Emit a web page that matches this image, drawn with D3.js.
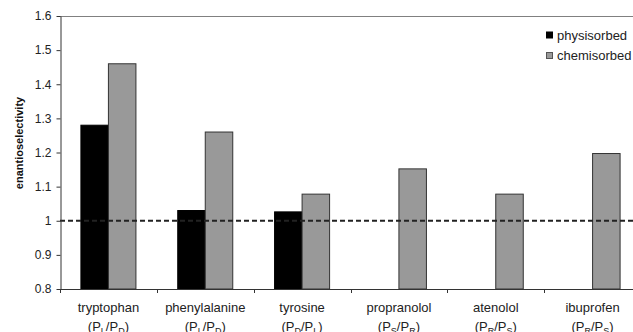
<!DOCTYPE html>
<html>
<head>
<meta charset="utf-8">
<script src="https://cdn.jsdelivr.net/npm/d3@7"></script>
<style>
  html, body { margin: 0; padding: 0; background: #fff; overflow: hidden; }
  svg { display: block; font-family: "Liberation Sans", Arial, sans-serif; }
</style>
</head>
<body>
<svg id="chart"></svg>
<script>
// data
const categories = ['tryptophan', 'phenylalanine', 'tyrosine', 'propranolol', 'atenolol', 'ibuprofen'];
const ratioLabels = [['L', 'D'], ['L', 'D'], ['D', 'L'], ['S', 'R'], ['R', 'S'], ['R', 'S']];
const series = ['physisorbed', 'chemisorbed'];
const physisorbed = [1.28, 1.03, 1.026, null, null, null];
const chemisorbed = [1.46, 1.26, 1.078, 1.152, 1.078, 1.197];
const yTicks = [0.8, 0.9, 1.0, 1.1, 1.2, 1.3, 1.4, 1.5, 1.6];
const yTickLabels = ['0.8', '0.9', '1', '1.1', '1.2', '1.3', '1.4', '1.5', '1.6'];
const colors = { physisorbed: '#000000', chemisorbed: '#999999' };

const [width, height] = [633, 332];
const margin = { top: 16, left: 60, bottom: 289 };
const plotRight = 641; // the plot runs off the right edge of the picture

const svg = d3.select('#chart')
    .attr('width', width)
    .attr('height', height);

const x0 = d3.scaleBand()
    .domain(categories)
    .range([margin.left, plotRight])
    .paddingInner(0)
    .paddingOuter(0);

const x1 = d3.scaleBand()
    .domain(series)
    .range([0, x0.bandwidth()])
    .paddingInner(0)
    .paddingOuter(0.76);

const y = d3.scaleLinear()
    .domain([0.8, 1.6])
    .range([margin.bottom, margin.top]);

const rows = categories.map((c, i) => ({
  category: c,
  values: [
    { key: 'physisorbed', value: physisorbed[i] },
    { key: 'chemisorbed', value: chemisorbed[i] }
  ].filter(d => d.value != null)
}));

// top border line
svg.append('line')
    .attr('x1', margin.left).attr('x2', width)
    .attr('y1', margin.top + 0.5).attr('y2', margin.top + 0.5)
    .attr('stroke', '#808080')
    .attr('stroke-width', 1);

// bars
svg.append('g')
  .selectAll('g')
  .data(rows)
  .join('g')
    .attr('transform', d => `translate(${x0(d.category)},0)`)
  .selectAll('rect')
  .data(d => d.values)
  .join('rect')
    .attr('x', d => x1(d.key))
    .attr('width', x1.bandwidth())
    .attr('y', d => y(d.value))
    .attr('height', d => y(0.8) - y(d.value))
    .attr('fill', d => colors[d.key])
    .attr('stroke', d => d.key === 'chemisorbed' ? '#333' : '#000')
    .attr('stroke-width', 1);

// reference line at 1
svg.append('line')
    .attr('x1', margin.left).attr('x2', width)
    .attr('y1', y(1)).attr('y2', y(1))
    .attr('stroke', '#222')
    .attr('stroke-width', 1.8)
    .attr('stroke-dasharray', '5,3');

// y axis
const yAxis = svg.append('g')
    .attr('transform', `translate(${margin.left + 0.5},0)`)
    .call(d3.axisLeft(y)
      .tickValues(yTicks)
      .tickFormat((d, i) => yTickLabels[i])
      .tickSize(4)
      .tickSizeOuter(0)
      .tickPadding(5));
yAxis.select('.domain').attr('stroke', '#333');
yAxis.selectAll('.tick line').attr('stroke', '#333');
yAxis.selectAll('.tick text')
    .attr('font-size', 12)
    .attr('font-family', '"Liberation Sans", Arial, sans-serif')
    .attr('fill', '#222');

// x axis line and boundary ticks
const xAxis = svg.append('g');
xAxis.append('line')
    .attr('x1', margin.left).attr('x2', width)
    .attr('y1', margin.bottom + 0.5).attr('y2', margin.bottom + 0.5)
    .attr('stroke', '#333');
xAxis.selectAll('line.tick')
  .data(categories)
  .join('line')
    .attr('class', 'tick')
    .attr('x1', d => Math.round(x0(d)) + 0.5)
    .attr('x2', d => Math.round(x0(d)) + 0.5)
    .attr('y1', margin.bottom)
    .attr('y2', margin.bottom + 4)
    .attr('stroke', '#333');

const xLabels = xAxis.selectAll('g.label')
  .data(categories)
  .join('g')
    .attr('class', 'label')
    .attr('transform', d => `translate(${x0(d) + x0.bandwidth() / 2},0)`)
    .attr('font-size', 13)
    .attr('fill', '#222')
    .attr('text-anchor', 'middle');

xLabels.append('text')
    .attr('y', 312)
    .text(d => d);

const ratio = xLabels.append('text')
    .attr('y', 331);
ratio.each(function (d, i) {
  const t = d3.select(this);
  const [a, b] = ratioLabels[i];
  t.append('tspan').text('(P');
  t.append('tspan').attr('font-size', 9).attr('dy', 3).text(a);
  t.append('tspan').attr('dy', -3).text('/P');
  t.append('tspan').attr('font-size', 9).attr('dy', 3).text(b);
  t.append('tspan').attr('dy', -3).text(')');
});

// y axis title
svg.append('text')
    .attr('transform', 'translate(23,143) rotate(-90)')
    .attr('text-anchor', 'middle')
    .attr('font-size', 11)
    .attr('font-weight', 'bold')
    .attr('fill', '#111')
    .text('enantioselectivity');

// legend
const legend = svg.append('g')
  .selectAll('g')
  .data(series)
  .join('g')
    .attr('transform', (d, i) => `translate(546,${35 + i * 20.5})`);

legend.append('rect')
    .attr('x', 0.5).attr('y', -3)
    .attr('width', 6).attr('height', 6)
    .attr('fill', d => colors[d])
    .attr('stroke', d => d === 'chemisorbed' ? '#555' : '#000');

legend.append('text')
    .attr('x', 11)
    .attr('y', 4.5)
    .attr('font-size', 13)
    .attr('fill', '#222')
    .text(d => d);
</script>
</body>
</html>
